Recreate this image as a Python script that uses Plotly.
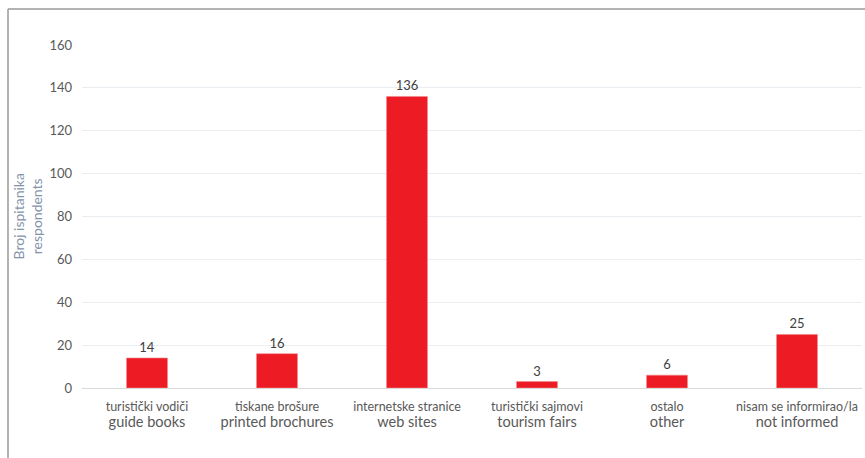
import plotly.graph_objects as go

cat_hr = ["turistički vodiči", "tiskane brošure", "internetske stranice",
          "turistički sajmovi", "ostalo", "nisam se informirao/la"]
cat_en = ["guide books", "printed brochures", "web sites",
          "tourism fairs", "other", "not informed"]
values = [14, 16, 136, 3, 6, 25]
y_ticks = [0, 20, 40, 60, 80, 100, 120, 140, 160]

labels = [f"<span style='font-size:12.5px'>{h}</span><br><span style='font-size:14.5px'>{e}</span>"
          for h, e in zip(cat_hr, cat_en)]

W, H = 865, 458
ml, mr, mt, mb = 82, 3, 45, 70
pw, ph = W - ml - mr, H - mt - mb

fig = go.Figure(go.Bar(
    x=labels, y=values,
    marker=dict(color="#ED1C24", line=dict(color="#F2888C", width=0.6)),
    text=[str(v) for v in values], textposition="outside",
    textfont=dict(size=13, color="#404040"),
    cliponaxis=False,
))

fig.update_layout(
    width=W, height=H,
    margin=dict(l=ml, r=mr, t=mt, b=mb),
    paper_bgcolor="white", plot_bgcolor="white",
    font=dict(family="Lato, Carlito, sans-serif", color="#595959", size=12),
    bargap=0.685,
    showlegend=False,
    xaxis=dict(showgrid=False, showline=True, linecolor="#D9D9D9", linewidth=1,
               ticks="", tickfont=dict(color="#595959"), ticklabelstandoff=8),
    yaxis=dict(range=[0, 160], tickvals=y_ticks, showgrid=True, gridcolor="#E8EEF2",
               gridwidth=1, zeroline=False, showline=False, ticks="",
               tickfont=dict(size=13, color="#595959"), ticklabelstandoff=9),
    annotations=[
        dict(text="Broj ispitanika<br>respondents", xref="paper", yref="paper",
             x=(27 - ml) / pw, y=0.5, xanchor="center", yanchor="middle",
             textangle=-90, showarrow=False,
             font=dict(size=14, color="#8394AA")),
    ],
    shapes=[
        dict(type="line", xref="paper", yref="paper",
             x0=(8 - ml) / pw, x1=(8 - ml) / pw,
             y0=1 + (mt - 9) / ph, y1=-(mb + 5) / ph,
             line=dict(color="#9A9A9A", width=1.5)),
        dict(type="line", xref="paper", yref="paper",
             x0=(8 - ml) / pw, x1=1 + (mr + 5) / pw,
             y0=1 + (mt - 9) / ph, y1=1 + (mt - 9) / ph,
             line=dict(color="#9A9A9A", width=1.5)),
    ],
)

fig.write_html("out.html")
